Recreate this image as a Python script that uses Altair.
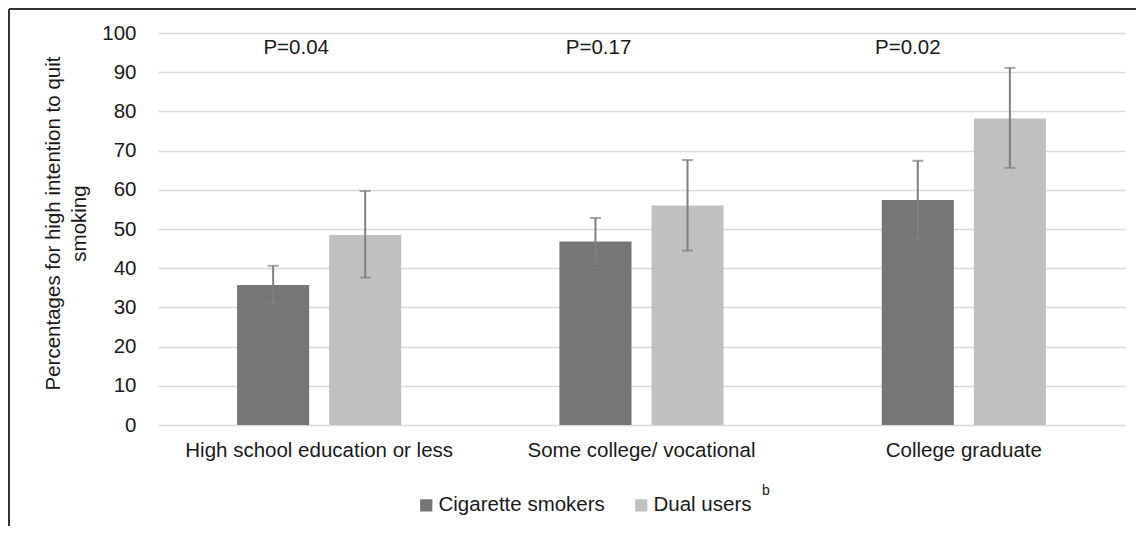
import altair as alt
import pandas as pd

categories = ["High school education or less", "Some college/ vocational", "College graduate"]
series = ["Cigarette smokers", "Dual users"]
cig_pct = [35.7, 46.8, 57.4]
cig_lo = [31.1, 41.1, 47.5]
cig_hi = [40.6, 52.8, 67.4]
dual_pct = [48.5, 56.0, 78.2]
dual_lo = [37.6, 44.5, 65.6]
dual_hi = [59.7, 67.6, 91.1]
p_labels = ["P=0.04", "P=0.17", "P=0.02"]
p_label_y = 96.2

rows = []
for i, c in enumerate(categories):
    rows.append({"cat": c, "series": series[0], "pct": cig_pct[i], "lo": cig_lo[i], "hi": cig_hi[i]})
    rows.append({"cat": c, "series": series[1], "pct": dual_pct[i], "lo": dual_lo[i], "hi": dual_hi[i]})
df = pd.DataFrame(rows)

FONT = "Liberation Sans"
TXT = "#1a1a1a"
FS = 20.5

x_axis = alt.Axis(title=None, labelAngle=0, ticks=False, domain=False,
                  labelFontSize=FS, labelColor=TXT, labelPadding=15,
                  labelFont=FONT, labelLimit=0)
y_axis = alt.Axis(values=list(range(0, 101, 10)), ticks=False, domain=False,
                  gridColor="#d9d9d9", gridWidth=1.5,
                  labelFontSize=FS, labelColor=TXT, labelPadding=22,
                  labelFont=FONT,
                  title=["Percentages for high intention to quit", "smoking"],
                  titleFontSize=FS, titleFontWeight="normal", titleColor=TXT,
                  titleFont=FONT, titleLineHeight=26, titlePadding=12, titleY=190)

x_scale = alt.Scale(paddingInner=0, paddingOuter=0)
xo_scale = alt.Scale(paddingInner=0.217, paddingOuter=0.859)
y_scale = alt.Scale(domain=[0, 100])


def X():
    return alt.X("cat:N", sort=categories, scale=x_scale, axis=x_axis)


def XO():
    return alt.XOffset("series:N", sort=series, scale=xo_scale)


def Y(field):
    return alt.Y(field, scale=y_scale, axis=y_axis)


base = alt.Chart(df)

bars = base.mark_bar().encode(
    x=X(),
    xOffset=XO(),
    y=Y("pct:Q"),
    color=alt.Color("series:N", sort=series,
                    scale=alt.Scale(domain=series, range=["#767676", "#c0c0c0"]),
                    legend=alt.Legend(title=None, orient="none", direction="horizontal",
                                      legendX=258, legendY=462,
                                      symbolType="square", symbolSize=150,
                                      symbolStrokeWidth=0, labelFontSize=FS,
                                      labelFont=FONT, labelColor=TXT, labelLimit=0,
                                      labelOffset=2, columnPadding=26, padding=0)),
)

err = base.mark_rule(color="#7f7f7f", strokeWidth=2).encode(
    x=X(), xOffset=XO(), y=Y("lo:Q"), y2="hi:Q",
)
cap_hi = base.mark_tick(color="#7f7f7f", orient="horizontal", size=11, thickness=2).encode(
    x=X(), xOffset=XO(), y=Y("hi:Q"),
)
cap_lo = base.mark_tick(color="#7f7f7f", orient="horizontal", size=11, thickness=2).encode(
    x=X(), xOffset=XO(), y=Y("lo:Q"),
)

p_dx = [-23, -43, -56]
p_layers = []
for i, c in enumerate(categories):
    pdf = pd.DataFrame({"cat": [c], "label": [p_labels[i]], "y": [p_label_y]})
    p_layers.append(
        alt.Chart(pdf).mark_text(fontSize=FS, font=FONT, color=TXT, dx=p_dx[i],
                                 baseline="middle", align="center").encode(
            x=X(), y=Y("y:Q"), text="label:N",
        )
    )

one = pd.DataFrame({"t": ["b"]})
sup = alt.Chart(one).mark_text(fontSize=14, font=FONT, color=TXT, align="left",
                               baseline="middle").encode(
    text="t:N", x=alt.value(604), y=alt.value(458))

frame_top = alt.Chart(one).mark_rule(color="#333333", strokeWidth=2).encode(
    x=alt.value(-149), x2=alt.value(978), y=alt.value(-24))
frame_left = alt.Chart(one).mark_rule(color="#333333", strokeWidth=2).encode(
    x=alt.value(-149), y=alt.value(-24), y2=alt.value(493))

chart = alt.layer(bars, err, cap_hi, cap_lo, *p_layers, sup, frame_top, frame_left).properties(
    width=967, height=392, padding=0
).configure(font=FONT).configure_view(stroke=None)

chart.save("out.html", embed_options={"renderer": "svg", "actions": False})
